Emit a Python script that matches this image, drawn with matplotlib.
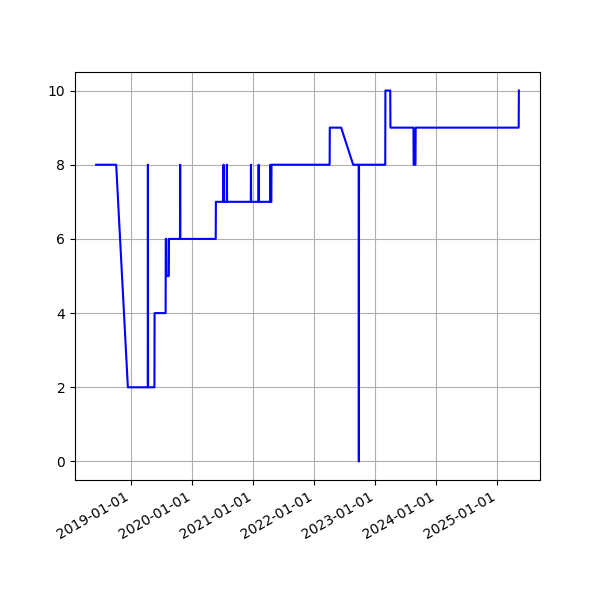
import matplotlib
matplotlib.use("Agg")
import matplotlib.pyplot as plt
import matplotlib.dates as mdates
import pandas as pd

dates = [
    "2018-06-04", "2018-10-02", "2018-12-11", "2019-04-09", "2019-04-10",
    "2019-04-11", "2019-05-19", "2019-05-20", "2019-07-25", "2019-07-26",
    "2019-07-29", "2019-07-30", "2019-08-13", "2019-08-14", "2019-10-19",
    "2019-10-20", "2019-10-21", "2020-05-20", "2020-05-21", "2020-07-05",
    "2020-07-06", "2020-07-07", "2020-07-25", "2020-07-26", "2020-07-27",
    "2020-12-16", "2020-12-17", "2020-12-18", "2021-01-31", "2021-02-01",
    "2021-02-02", "2021-04-12", "2021-04-13", "2021-04-14", "2021-04-18",
    "2021-04-19", "2022-04-02", "2022-04-03", "2022-06-10", "2022-08-21",
    "2022-09-23", "2022-09-24", "2022-09-25", "2023-03-01", "2023-03-02",
    "2023-03-31", "2023-04-01", "2023-08-17", "2023-08-18", "2023-08-29",
    "2023-08-30", "2025-05-08", "2025-05-09",
]
values = [
    8, 8, 2, 2, 8,
    2, 2, 4, 4, 6,
    6, 5, 5, 6, 6,
    8, 6, 6, 7, 7,
    8, 7, 7, 8, 7,
    7, 8, 7, 7, 8,
    7, 7, 8, 7, 7,
    8, 8, 9, 9, 8,
    8, 0, 8, 8, 10,
    10, 9, 9, 8, 8,
    9, 9, 10,
]

x = pd.to_datetime(dates)

fig, ax = plt.subplots(figsize=(6, 6), dpi=100)
ax.plot(x, values, "-b")
ax.xaxis.set_major_locator(mdates.YearLocator())
ax.xaxis.set_major_formatter(mdates.DateFormatter("%Y-%m-%d"))
ax.grid(True)
fig.autofmt_xdate()
fig.savefig("out.png")
